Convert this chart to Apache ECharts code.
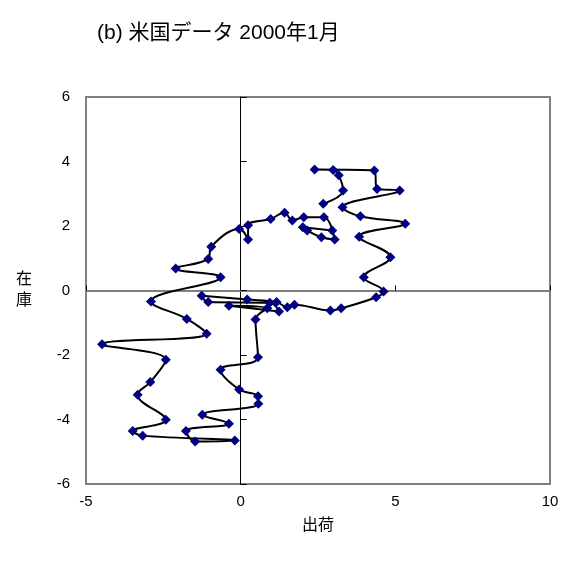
<!DOCTYPE html>
<html>
<head>
<meta charset="utf-8">
<script src="https://cdn.jsdelivr.net/npm/echarts@6/dist/echarts.min.js"></script>
<style>
html,body{margin:0;padding:0;background:#fff;}
#chart{width:574px;height:562px;}
</style>
</head>
<body>
<div id="chart"></div>
<script>
// 出荷 (shipments, x) and 在庫 (inventory, y), in path order
var shipments = [2.96, 2.01, 2.15, 2.61, 3.04, 2.69, 2.04, 1.67, 1.42, 0.97,
  0.24, 0.24, -0.05, -0.95, -1.05, -2.10, -0.65, -2.90, -1.74, -1.10,
  -4.48, -2.42, -2.92, -3.33, -2.42, -3.49, -3.17, -0.19, -1.47, -1.77,
  -0.38, -1.24, 0.57, 0.56, -0.05, -0.65, 0.56, 0.48, 0.86, -0.38,
  1.24, 0.94, -1.05, -1.26, 0.21, 1.16, 1.51, 1.74, 2.90, 3.25,
  4.38, 4.62, 3.98, 4.84, 3.83, 5.32, 3.87, 3.29, 5.14, 4.41,
  4.32, 2.39, 2.99, 3.17, 3.31, 2.67];
var inventory = [1.86, 1.96, 1.86, 1.65, 1.58, 2.27, 2.27, 2.17, 2.41, 2.22,
  2.02, 1.58, 1.91, 1.36, 0.98, 0.68, 0.41, -0.34, -0.88, -1.34,
  -1.67, -2.15, -2.84, -3.23, -4.01, -4.36, -4.50, -4.65, -4.68, -4.36,
  -4.13, -3.85, -3.51, -3.28, -3.07, -2.46, -2.07, -0.90, -0.55, -0.47,
  -0.65, -0.38, -0.36, -0.16, -0.28, -0.36, -0.52, -0.44, -0.62, -0.55,
  -0.21, -0.03, 0.41, 1.03, 1.67, 2.07, 2.30, 2.58, 3.10, 3.15,
  3.72, 3.75, 3.74, 3.57, 3.10, 2.69];
var xTicks = [-5, 0, 5, 10];
var yTicks = [-6, -4, -2, 0, 2, 4, 6];
var titleText = '(b) 米国データ 2000年1月';
var xName = '出荷';
var yName = '在\n庫';

var points = shipments.map(function (v, i) { return [v, inventory[i]]; });
var font = '"Liberation Sans", Arial, "Noto Sans CJK JP", sans-serif';

var chart = echarts.init(document.getElementById('chart'), null, {renderer: 'canvas'});
chart.setOption({
  animation: false,
  backgroundColor: '#ffffff',
  title: {
    text: titleText,
    left: 97,
    top: 23,
    padding: 0,
    textStyle: {fontFamily: font, fontSize: 21, fontWeight: 'normal', color: '#000'}
  },
  grid: {
    left: 86, right: 24, top: 97, bottom: 78,
    show: true, borderColor: '#808080', borderWidth: 2, backgroundColor: 'transparent'
  },
  xAxis: [{
    type: 'value', min: xTicks[0], max: xTicks[xTicks.length - 1], interval: 5,
    position: 'bottom',
    axisLine: {show: false, onZero: false},
    axisTick: {show: false},
    splitLine: {show: false},
    axisLabel: {fontFamily: font, fontSize: 15, color: '#000', margin: 10},
    name: xName, nameLocation: 'middle', nameGap: 34,
    nameTextStyle: {fontFamily: font, fontSize: 16, color: '#000'}
  }, {
    type: 'value', min: xTicks[0], max: xTicks[xTicks.length - 1], interval: 5,
    position: 'bottom',
    axisLine: {show: true, onZero: true, onZeroAxisIndex: 0, lineStyle: {color: '#808080', width: 2}},
    axisTick: {show: true, inside: true, length: 5, lineStyle: {color: '#000', width: 1}},
    splitLine: {show: false},
    axisLabel: {show: false}
  }],
  yAxis: [{
    type: 'value', min: yTicks[0], max: yTicks[yTicks.length - 1], interval: 2,
    position: 'left',
    axisLine: {show: false, onZero: false},
    axisTick: {show: false},
    splitLine: {show: false},
    axisLabel: {fontFamily: font, fontSize: 15, color: '#000', margin: 16},
    name: yName, nameLocation: 'middle', nameGap: 54, nameRotate: 0,
    nameTextStyle: {fontFamily: font, fontSize: 16, color: '#000', lineHeight: 21}
  }, {
    type: 'value', min: yTicks[0], max: yTicks[yTicks.length - 1], interval: 2,
    position: 'left',
    axisLine: {show: true, onZero: true, onZeroAxisIndex: 0, lineStyle: {color: '#000', width: 1}},
    axisTick: {show: true, inside: true, length: 6, lineStyle: {color: '#000', width: 1}},
    splitLine: {show: false},
    axisLabel: {show: false}
  }],
  series: [{
    type: 'line',
    xAxisIndex: 0, yAxisIndex: 0,
    data: points,
    smooth: 0.4,
    symbol: 'diamond',
    symbolSize: 10,
    lineStyle: {color: '#000', width: 2},
    itemStyle: {color: '#000080'},
    z: 5
  }]
});
</script>
</body>
</html>
